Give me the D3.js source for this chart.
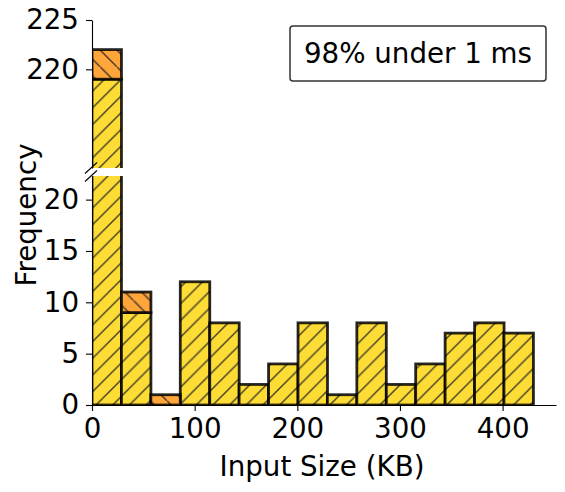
<!DOCTYPE html>
<html>
<head>
<meta charset="utf-8">
<script src="https://cdn.jsdelivr.net/npm/d3@7"></script>
<style>
  body { margin: 0; background: #fff; }
  text { font-family: "DejaVu Sans", sans-serif; }
</style>
</head>
<body>
<div id="chart"></div>
<script>
// histogram bins (KB), counts
var binStart = [0, 28.7, 57.3, 86, 114.7, 143.3, 172, 200.7, 229.3, 258, 286.7, 315.3, 344, 372.7, 401.3];
var binWidth = 28.7;
var fastCounts = [219, 9, 0, 12, 8, 2, 4, 8, 1, 8, 2, 4, 7, 8, 7];
var slowCounts = [3, 2, 1, 0, 0, 0, 0, 0, 0, 0, 0, 0, 0, 0, 0];
var xTicks = [0, 100, 200, 300, 400];
var yTicksLow = [0, 5, 10, 15, 20];
var yTicksHigh = [220, 225];
var note = "98% under 1 ms";

var W = 565, H = 492;
var fs = 27.7;
var yellow = "#fddd35", orange = "#ffa53a";

var x = d3.scaleLinear().domain([0, 452]).range([92, 556]);
var yHigh = d3.scaleLinear().domain([210, 225]).range([168, 20]);
var yLow = d3.scaleLinear().domain([0, 22.3]).range([405, 176]);

var svg = d3.select("#chart").append("svg")
    .attr("width", W).attr("height", H);

var defs = svg.append("defs");
function hatch(id, fill, back) {
  var s = 16.7;
  var p = defs.append("pattern").attr("id", id)
      .attr("patternUnits", "userSpaceOnUse")
      .attr("width", s).attr("height", s);
  p.append("rect").attr("width", s).attr("height", s).attr("fill", fill);
  var d = back
    ? "M0,0 L" + s + "," + s + " M-2,-" + (s - 2) + " L2," + (-s + 2) + " M" + (s - 2) + "," + (s - 2) + " L" + (s + 2) + "," + (s + 2)
    : "M0," + s + " L" + s + ",0 M-2,2 L2,-2 M" + (s - 2) + "," + (s + 2) + " L" + (s + 2) + "," + (s - 2);
  p.append("path").attr("d", d).attr("stroke", "#222").attr("stroke-opacity", 0.85)
      .attr("stroke-width", 1.4).attr("fill", "none");
}
hatch("hYellow", yellow, false);
hatch("hOrange", orange, true);

function panel(y, clipId) {
  var r = y.range();
  defs.append("clipPath").attr("id", clipId).append("rect")
      .attr("x", x.range()[0]).attr("y", r[1])
      .attr("width", x.range()[1] - x.range()[0]).attr("height", r[0] - r[1]);
  var g = svg.append("g").attr("clip-path", "url(#" + clipId + ")");
  var bars = binStart.map(function(b, i) {
    return {x0: b, fast: fastCounts[i], slow: slowCounts[i]};
  });
  g.selectAll(".fast").data(bars.filter(function(d){ return d.fast > 0; }))
    .enter().append("rect")
      .attr("x", function(d){ return x(d.x0); })
      .attr("width", function(d){ return x(d.x0 + binWidth) - x(d.x0); })
      .attr("y", function(d){ return y(d.fast); })
      .attr("height", function(d){ return y(0) - y(d.fast); })
      .attr("fill", "url(#hYellow)")
      .attr("stroke", "#000").attr("stroke-opacity", 0.85).attr("stroke-width", 2.8);
  g.selectAll(".slow").data(bars.filter(function(d){ return d.slow > 0; }))
    .enter().append("rect")
      .attr("x", function(d){ return x(d.x0); })
      .attr("width", function(d){ return x(d.x0 + binWidth) - x(d.x0); })
      .attr("y", function(d){ return y(d.fast + d.slow); })
      .attr("height", function(d){ return y(d.fast) - y(d.fast + d.slow); })
      .attr("fill", "url(#hOrange)")
      .attr("stroke", "#000").attr("stroke-opacity", 0.85).attr("stroke-width", 2.8);
}
panel(yHigh, "clipHigh");
panel(yLow, "clipLow");

function styleAxis(g) {
  g.selectAll("text").style("font-family", "DejaVu Sans, sans-serif")
      .style("font-size", fs + "px").attr("fill", "#000");
  g.selectAll("line").attr("stroke", "#000").attr("stroke-width", 1.1);
  g.select(".domain").attr("stroke", "#000").attr("stroke-width", 1.1);
}

svg.append("g").attr("transform", "translate(92,0)")
    .call(d3.axisLeft(yHigh).tickValues(yTicksHigh).tickSize(6).tickPadding(7).tickSizeOuter(0))
    .call(styleAxis);
svg.append("g").attr("transform", "translate(92,0)")
    .call(d3.axisLeft(yLow).tickValues(yTicksLow).tickSize(6).tickPadding(7).tickSizeOuter(0))
    .call(styleAxis);
svg.append("g").attr("transform", "translate(0,405)")
    .call(d3.axisBottom(x).tickValues(xTicks).tickSize(6).tickPadding(7).tickSizeOuter(0))
    .call(styleAxis);

// break marks
[yHigh.range()[0], yLow.range()[1]].forEach(function(e) {
  svg.append("line")
      .attr("x1", 85).attr("y1", e + 5.5)
      .attr("x2", 97).attr("y2", e - 5.5)
      .attr("stroke", "#000").attr("stroke-width", 1.1);
});

svg.append("text")
    .attr("transform", "translate(36,215) rotate(-90)")
    .attr("text-anchor", "middle")
    .style("font-size", fs + "px")
    .text("Frequency");

svg.append("text")
    .attr("x", 322).attr("y", 476)
    .attr("text-anchor", "middle")
    .style("font-size", fs + "px")
    .text("Input Size (KB)");

svg.append("rect")
    .attr("x", 290).attr("y", 26).attr("width", 256).attr("height", 55)
    .attr("rx", 3).attr("fill", "#fff")
    .attr("stroke", "#333").attr("stroke-width", 1.5);
svg.append("text")
    .attr("x", 418).attr("y", 63)
    .attr("text-anchor", "middle")
    .style("font-size", fs + "px")
    .text(note);
</script>
</body>
</html>
